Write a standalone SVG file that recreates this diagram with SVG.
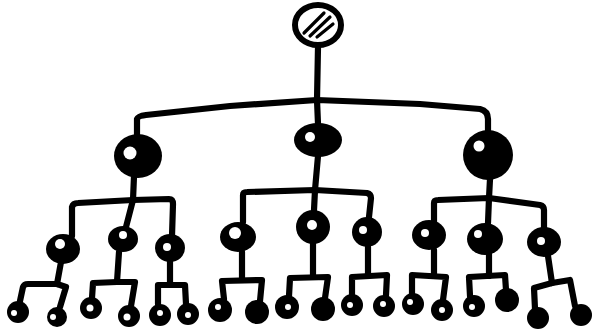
<svg xmlns="http://www.w3.org/2000/svg" width="592" height="331" viewBox="0 0 592 331">
<style>
.c{fill:none;stroke:#000;stroke-width:6.2;stroke-linecap:round;stroke-linejoin:round}
.n{fill:#000}
.h{fill:#fff}
.r{fill:#fff;stroke:#000;stroke-width:6}
.hatch{fill:none;stroke:#000;stroke-width:3.2;stroke-linecap:round}
</style>
<rect width="592" height="331" fill="#fff"/>
<g id="connectors">
<path class="c" d="M318,47 L317,100"/>
<path class="c" d="M137,134 L137,119 Q138,116 146,115 L230,106 L317,100 L420,104 L480,109 Q488,111 488,119 L488,132"/>
<path class="c" d="M317,100 L318,124"/>
<path class="c" d="M134,176 L133,200"/>
<path class="c" d="M72,236 L72,207 Q73,203 78,203 L133,200 L169,199 Q173,199 173,204 L172,236"/>
<path class="c" d="M133,200 L126,227"/>
<path class="c" d="M318,156 L315,190 L314,210"/>
<path class="c" d="M243,222 L243,195 Q243,192 247,192 L315,190 L367,193 Q371,194 371,198 L369,217"/>
<path class="c" d="M490,179 L489,198 L488,223"/>
<path class="c" d="M434,222 L434,203 Q434,200 438,200 L489,198 L540,205 Q544,206 544,210 L544,230"/>
<path class="c" d="M61,262 L57,284"/>
<path class="c" d="M20,301 L23,287 Q24,284 28,284 L57,284 L66,287 L60,307"/>
<path class="c" d="M119,252 L117,282"/>
<path class="c" d="M92,298 L93,283 L117,282 L135,282 L131,306"/>
<path class="c" d="M170,262 L170,285"/>
<path class="c" d="M158,304 L158,285 L185,285 L186,304"/>
<path class="c" d="M242,252 L242,280"/>
<path class="c" d="M224,299 L222,281 L262,280 L260,301"/>
<path class="c" d="M313,244 L313,277"/>
<path class="c" d="M289,296 L290,278 L328,277 L325,298"/>
<path class="c" d="M368,247 L368,276"/>
<path class="c" d="M352,295 L352,277 L387,275 L386,295"/>
<path class="c" d="M434,250 L434,275"/>
<path class="c" d="M412,294 L412,275 L446,277 L443,300"/>
<path class="c" d="M489,254 L489,276"/>
<path class="c" d="M470,296 L469,277 L505,275 L506,290"/>
<path class="c" d="M548,256 L552,283"/>
<path class="c" d="M535,309 L534,288 L552,283 L570,280 L575,306"/>
</g>
<g id="root">
<ellipse class="r" cx="318" cy="25" rx="23" ry="20"/>
<path class="hatch" d="M304,33 L324,13 M310,36 L330,17 M317,37 L333,24"/>
</g>
<g id="n1-left"><ellipse class="n" cx="138" cy="156" rx="24" ry="22"/><circle class="h" cx="130" cy="153" r="6.5"/></g>
<g id="n1-mid"><ellipse class="n" cx="318" cy="140" rx="24" ry="17"/><circle class="h" cx="310" cy="137" r="5"/></g>
<g id="n1-right"><ellipse class="n" cx="488" cy="155" rx="25" ry="25"/><circle class="h" cx="479" cy="146" r="5.5"/></g>
<g id="n2-a"><ellipse class="n" cx="63" cy="249" rx="17" ry="15"/><circle class="h" cx="60" cy="244" r="5"/></g>
<g id="n2-b"><ellipse class="n" cx="123" cy="239" rx="15" ry="13"/><circle class="h" cx="123" cy="235" r="4"/></g>
<g id="n2-c"><ellipse class="n" cx="170" cy="248" rx="15" ry="14"/><circle class="h" cx="167" cy="247" r="4"/></g>
<g id="n2-d"><ellipse class="n" cx="238" cy="237" rx="18" ry="15"/><circle class="h" cx="235" cy="233" r="6"/></g>
<g id="n2-e"><ellipse class="n" cx="313" cy="227" rx="17" ry="17"/><circle class="h" cx="312" cy="225" r="5"/></g>
<g id="n2-f"><ellipse class="n" cx="367" cy="232" rx="15" ry="15"/><circle class="h" cx="363" cy="230" r="4"/></g>
<g id="n2-g"><ellipse class="n" cx="429" cy="235" rx="17" ry="15"/><circle class="h" cx="425" cy="233" r="4"/></g>
<g id="n2-h"><ellipse class="n" cx="485" cy="239" rx="18" ry="16"/><circle class="h" cx="478" cy="234" r="4"/></g>
<g id="n2-i"><ellipse class="n" cx="544" cy="242" rx="17" ry="15"/><circle class="h" cx="541" cy="241" r="4"/></g>
<g id="leaf-1"><circle class="n" cx="18" cy="312" r="11"/><circle class="h" cx="14" cy="313" r="3"/></g>
<g id="leaf-2"><circle class="n" cx="57" cy="317" r="10"/><circle class="h" cx="53" cy="317" r="3"/></g>
<g id="leaf-3"><circle class="n" cx="91" cy="308" r="11"/><circle class="h" cx="90" cy="308" r="3.5"/></g>
<g id="leaf-4"><circle class="n" cx="129" cy="316" r="11"/><circle class="h" cx="127" cy="317" r="3.5"/></g>
<g id="leaf-5"><circle class="n" cx="160" cy="315" r="11"/><circle class="h" cx="160" cy="313" r="3"/></g>
<g id="leaf-6"><circle class="n" cx="188" cy="314" r="11"/><circle class="h" cx="188" cy="315" r="3"/></g>
<g id="leaf-7"><circle class="n" cx="220" cy="310" r="12"/><circle class="h" cx="218" cy="307" r="3"/></g>
<g id="leaf-8"><circle class="n" cx="257" cy="312" r="12"/></g>
<g id="leaf-9"><circle class="n" cx="287" cy="307" r="12"/><circle class="h" cx="288" cy="307" r="3"/></g>
<g id="leaf-10"><circle class="n" cx="323" cy="309" r="12"/></g>
<g id="leaf-11"><circle class="n" cx="352" cy="305" r="11"/><circle class="h" cx="350" cy="305" r="3"/></g>
<g id="leaf-12"><circle class="n" cx="384" cy="306" r="11"/><circle class="h" cx="383" cy="304" r="3"/></g>
<g id="leaf-13"><circle class="n" cx="413" cy="304" r="11"/><circle class="h" cx="410" cy="302" r="3"/></g>
<g id="leaf-14"><circle class="n" cx="442" cy="310" r="11"/><circle class="h" cx="442" cy="310" r="3"/></g>
<g id="leaf-15"><circle class="n" cx="474" cy="306" r="11"/><circle class="h" cx="472" cy="307" r="3"/></g>
<g id="leaf-16"><circle class="n" cx="507" cy="300" r="12"/></g>
<g id="leaf-17"><circle class="n" cx="538" cy="318" r="11"/></g>
<g id="leaf-18"><circle class="n" cx="581" cy="315" r="11"/></g>
</svg>
